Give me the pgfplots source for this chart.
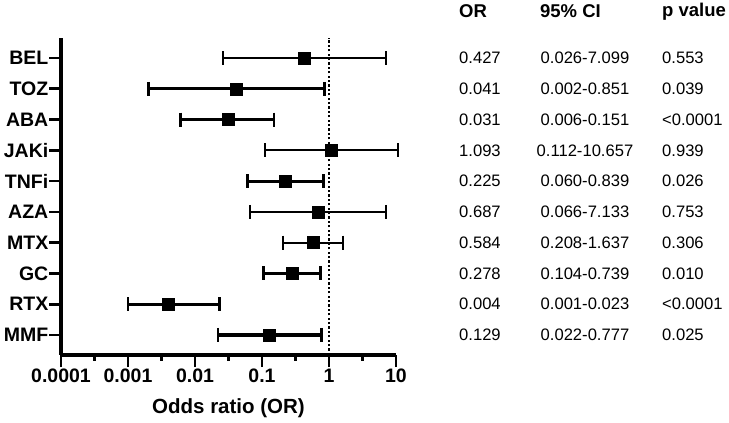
\documentclass[border=0pt]{standalone}
\usepackage{pgfplots}
\pgfplotsset{compat=1.18}
\usepackage{fontspec}
\setmainfont{Liberation Sans}
\pgfplotstableread{
y  or    lo     hi
10 0.427 0.026  7.099
7  1.093 0.112  10.657
5  0.687 0.066  7.133
4  0.584 0.208  1.637
}\thindata
\pgfplotstableread{
y  or    lo     hi
9  0.041 0.002  0.851
8  0.031 0.006  0.151
6  0.225 0.060  0.839
3  0.278 0.104  0.739
2  0.004 0.001  0.023
1  0.129 0.022  0.777
}\thickdata
\newcommand{\tabfont}{\fontsize{16.6}{17}\selectfont}
\newcommand{\headfont}{\bfseries\fontsize{18.5}{19}\selectfont}
\newcommand{\xfont}{\bfseries\fontsize{19.5}{19.5}\selectfont}
\newcommand{\row}[4]{%
  \node[anchor=west, inner xsep=0pt, font=\tabfont] at (axis cs:87.1,#1) {#2};
  \node[anchor=center, inner xsep=0pt, font=\tabfont] at (axis cs:6620,#1) {#3};
  \node[anchor=west, inner xsep=0pt, font=\tabfont] at (axis cs:93300,#1) {#4};
}
\newcommand{\xlab}[2]{%
  \node[anchor=center, inner sep=0pt, font=\xfont, yshift=-21pt] at (axis cs:#1,0.35) {#2};
}
\tikzset{thinci/.style={black, line width=2.1pt, mark=|, mark size=7pt, mark options={line width=2.1pt}},
         thickci/.style={black, line width=3.1pt, mark=|, mark size=7pt, mark options={line width=2.8pt}}}
\begin{document}
\begin{tikzpicture}
\useasboundingbox (0,0) rectangle (729pt,423pt);
\begin{axis}[
  at={(61pt,68pt)}, anchor=south west,
  scale only axis, width=335pt, height=317pt,
  xmode=log, xmin=1e-4, xmax=10, ymin=0.35, ymax=10.65,
  axis x line*=bottom, axis y line*=left,
  axis line style={line width=3.2pt, -},
  clip=false,
  xtick={1e-4,1e-3,0.01,0.1,1,10},
  xticklabels={},
  minor xtick={3.1623e-4,3.1623e-3,3.1623e-2,0.31623,3.1623},
  ytick={1,2,3,4,5,6,7,8,9,10},
  yticklabels={MMF,RTX,GC,MTX,AZA,TNFi,JAKi,ABA,TOZ,BEL},
  tick align=outside,
  major tick length=12pt, minor tick length=6pt,
  every tick/.style={black, line width=2.6pt},
  yticklabel style={font=\bfseries\fontsize{19.5}{19.5}\selectfont, inner xsep=0.5pt},
  xlabel={Odds ratio (OR)},
  xlabel style={font=\bfseries\fontsize{20.5}{20.5}\selectfont, at={(axis description cs:0.5,0)}, anchor=center, yshift=-53pt},
]
\addplot[black, line width=2.4pt, dash pattern=on 2.2pt off 2.2pt] coordinates {(1,0.35) (1,10.65)};
% thin CIs (non-significant)
\addplot[thinci] coordinates {(0.026,10) (7.099,10)};
\addplot[thinci] coordinates {(0.112,7) (10.657,7)};
\addplot[thinci] coordinates {(0.066,5) (7.133,5)};
\addplot[thinci] coordinates {(0.208,4) (1.637,4)};
% thick CIs (significant)
\addplot[thickci] coordinates {(0.002,9) (0.851,9)};
\addplot[thickci] coordinates {(0.006,8) (0.151,8)};
\addplot[thickci] coordinates {(0.060,6) (0.839,6)};
\addplot[thickci] coordinates {(0.104,3) (0.739,3)};
\addplot[thickci] coordinates {(0.001,2) (0.023,2)};
\addplot[thickci] coordinates {(0.022,1) (0.777,1)};
% point estimates
\addplot[only marks, mark=square*, mark size=6pt, black] table[x=or, y=y] {\thindata};
\addplot[only marks, mark=square*, mark size=6pt, black] table[x=or, y=y] {\thickdata};
% x tick labels
\xlab{1e-4}{0.0001}
\xlab{1e-3}{0.001}
\xlab{0.01}{0.01}
\xlab{0.1}{0.1}
\xlab{1}{1}
\xlab{10}{10}
% table
\node[anchor=west, inner xsep=0pt, font=\headfont] at (axis cs:87.1,11.52) {OR};
\node[anchor=west, inner xsep=0pt, font=\headfont] at (axis cs:1409,11.52) {95\% CI};
\node[anchor=west, inner xsep=0pt, font=\headfont] at (axis cs:93300,11.52) {p value};
\row{10}{0.427}{0.026-7.099}{0.553}
\row{9}{0.041}{0.002-0.851}{0.039}
\row{8}{0.031}{0.006-0.151}{<0.0001}
\row{7}{1.093}{0.112-10.657}{0.939}
\row{6}{0.225}{0.060-0.839}{0.026}
\row{5}{0.687}{0.066-7.133}{0.753}
\row{4}{0.584}{0.208-1.637}{0.306}
\row{3}{0.278}{0.104-0.739}{0.010}
\row{2}{0.004}{0.001-0.023}{<0.0001}
\row{1}{0.129}{0.022-0.777}{0.025}
\end{axis}
\end{tikzpicture}
\end{document}
